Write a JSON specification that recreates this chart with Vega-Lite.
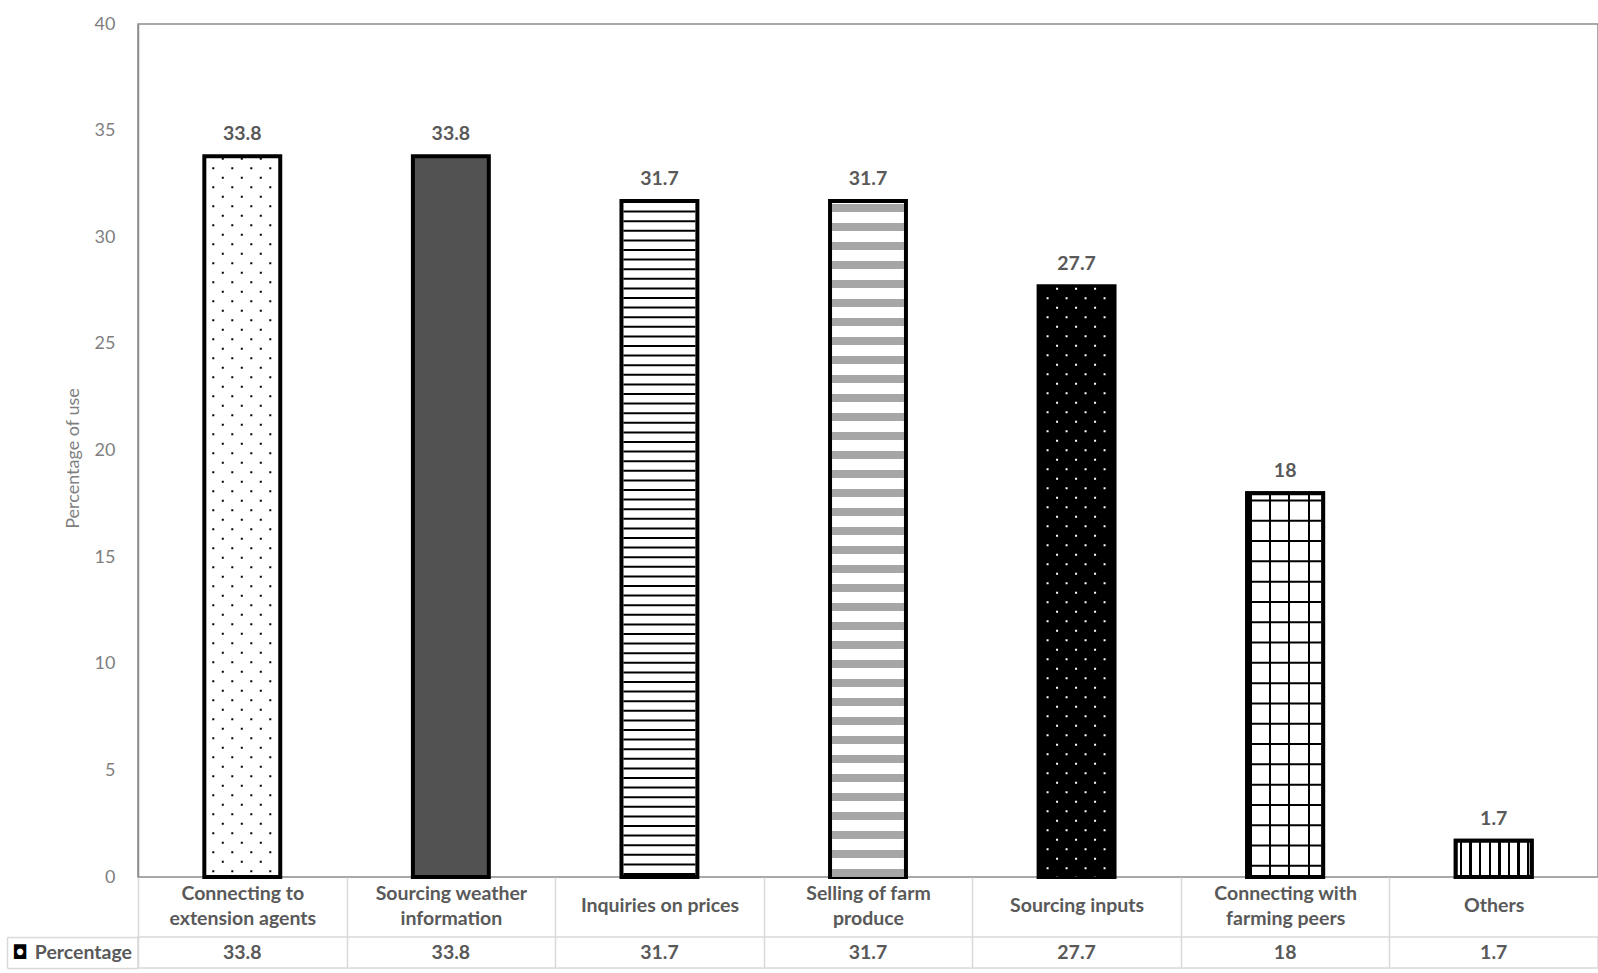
{
  "$schema": "https://vega.github.io/schema/vega-lite/v6.json",
  "padding": {"left": 5, "top": 14, "right": 0, "bottom": 0},
  "bounds": "flush",
  "spacing": 60,
  "config": {"font": "Lato", "background": "white"},
  "data": {
    "values": [
      {"cat": "Connecting to extension agents", "series": "Percentage", "val": 33.8},
      {"cat": "Sourcing weather information", "series": "Percentage", "val": 33.8},
      {"cat": "Inquiries on prices", "series": "Percentage", "val": 31.7},
      {"cat": "Selling of farm produce", "series": "Percentage", "val": 31.7},
      {"cat": "Sourcing inputs", "series": "Percentage", "val": 27.7},
      {"cat": "Connecting with farming peers", "series": "Percentage", "val": 18},
      {"cat": "Others", "series": "Percentage", "val": 1.7}
    ]
  },
  "vconcat": [
    {
      "width": 1460,
      "height": 853,
      "view": {"stroke": "#8c8c8c", "strokeWidth": 1.5},
      "encoding": {
        "x": {
          "field": "cat", "type": "nominal", "sort": null,
          "scale": {"paddingInner": 0, "paddingOuter": 0},
          "axis": {
            "title": null, "domain": false, "ticks": true, "tickBand": "extent",
            "tickSize": 61, "tickColor": "#d9d9d9", "tickWidth": 1.5,
            "labelFontSize": 19.5, "labelFontWeight": "bold", "labelColor": "#595959",
            "labelPadding": {"condition": {"test": "datum.value == 'Inquiries on prices' || datum.value == 'Sourcing inputs' || datum.value == 'Others'", "value": -32.5}, "value": -44.5},
            "labelBaseline": "middle", "labelLineHeight": 25,
            "labelAngle": 0, "labelLimit": 0,
            "labelExpr": "datum.value == 'Connecting to extension agents' ? ['Connecting to', 'extension agents'] : datum.value == 'Sourcing weather information' ? ['Sourcing weather', 'information'] : datum.value == 'Selling of farm produce' ? ['Selling of farm', 'produce'] : datum.value == 'Connecting with farming peers' ? ['Connecting with', 'farming peers'] : datum.label"
          }
        },
        "y": {
          "field": "val", "type": "quantitative",
          "scale": {"domain": [0, 40]},
          "axis": {
            "title": "Percentage of use", "titleFontSize": 18, "titleColor": "#7f7f7f",
            "titleFontWeight": "normal", "titlePadding": 12, "titleY": 434,
            "labelFontSize": 18, "labelColor": "#7f7f7f", "labelPadding": 23,
            "ticks": false, "grid": false, "domainColor": "#8c8c8c", "domainWidth": 1.5,
            "values": [0, 5, 10, 15, 20, 25, 30, 35, 40]
          }
        }
      },
      "layer": [
        {
          "mark": {"type": "bar", "width": {"band": 0.364}, "stroke": "black", "strokeWidth": 4},
          "encoding": {
            "fill": {
              "field": "cat", "type": "nominal", "sort": null, "legend": null,
              "scale": {
                "domain": ["Connecting to extension agents", "Sourcing weather information", "Inquiries on prices", "Selling of farm produce", "Sourcing inputs", "Connecting with farming peers", "Others"],
                "range": ["#ffffff", "#525252", "#ffffff", "#ffffff", "#000000", "#ffffff", "#ffffff"]
              }
            }
          }
        },
        {
          "transform": [{"filter": "datum.cat == 'Inquiries on prices'"}],
          "mark": {"type": "rule", "color": "black", "strokeWidth": 72, "strokeDash": [2, 7.6], "strokeCap": "butt"},
          "encoding": {"y2": {"datum": 0}}
        },
        {
          "transform": [{"filter": "datum.cat == 'Selling of farm produce'"}],
          "mark": {"type": "rule", "color": "#a6a6a6", "strokeWidth": 72, "strokeDash": [8, 11], "strokeDashOffset": 16, "strokeCap": "butt"},
          "encoding": {"y2": {"datum": 0}}
        },
        {
          "transform": [{"filter": "datum.cat == 'Connecting to extension agents' || datum.cat == 'Sourcing inputs'"}],
          "mark": {"type": "rule", "strokeWidth": 2, "strokeDash": [2, 17], "strokeDashOffset": 8, "xOffset": -29, "strokeCap": "butt"},
          "encoding": {"y2": {"datum": 0}, "stroke": {"field": "cat", "type": "nominal", "legend": null, "scale": {"domain": ["Connecting to extension agents", "Sourcing inputs"], "range": ["black", "white"]}}}
        },
        {
          "transform": [{"filter": "datum.cat == 'Connecting to extension agents' || datum.cat == 'Sourcing inputs'"}],
          "mark": {"type": "rule", "strokeWidth": 2, "strokeDash": [2, 17], "strokeDashOffset": 8, "xOffset": -10, "strokeCap": "butt"},
          "encoding": {"y2": {"datum": 0}, "stroke": {"field": "cat", "type": "nominal", "legend": null}}
        },
        {
          "transform": [{"filter": "datum.cat == 'Connecting to extension agents' || datum.cat == 'Sourcing inputs'"}],
          "mark": {"type": "rule", "strokeWidth": 2, "strokeDash": [2, 17], "strokeDashOffset": 8, "xOffset": 9, "strokeCap": "butt"},
          "encoding": {"y2": {"datum": 0}, "stroke": {"field": "cat", "type": "nominal", "legend": null}}
        },
        {
          "transform": [{"filter": "datum.cat == 'Connecting to extension agents' || datum.cat == 'Sourcing inputs'"}],
          "mark": {"type": "rule", "strokeWidth": 2, "strokeDash": [2, 17], "strokeDashOffset": 8, "xOffset": 28, "strokeCap": "butt"},
          "encoding": {"y2": {"datum": 0}, "stroke": {"field": "cat", "type": "nominal", "legend": null}}
        },
        {
          "transform": [{"filter": "datum.cat == 'Connecting to extension agents' || datum.cat == 'Sourcing inputs'"}],
          "mark": {"type": "rule", "strokeWidth": 2, "strokeDash": [2, 17], "strokeDashOffset": 17.5, "xOffset": -19.5, "strokeCap": "butt"},
          "encoding": {"y2": {"datum": 0}, "stroke": {"field": "cat", "type": "nominal", "legend": null}}
        },
        {
          "transform": [{"filter": "datum.cat == 'Connecting to extension agents' || datum.cat == 'Sourcing inputs'"}],
          "mark": {"type": "rule", "strokeWidth": 2, "strokeDash": [2, 17], "strokeDashOffset": 17.5, "xOffset": -0.5, "strokeCap": "butt"},
          "encoding": {"y2": {"datum": 0}, "stroke": {"field": "cat", "type": "nominal", "legend": null}}
        },
        {
          "transform": [{"filter": "datum.cat == 'Connecting to extension agents' || datum.cat == 'Sourcing inputs'"}],
          "mark": {"type": "rule", "strokeWidth": 2, "strokeDash": [2, 17], "strokeDashOffset": 17.5, "xOffset": 18.5, "strokeCap": "butt"},
          "encoding": {"y2": {"datum": 0}, "stroke": {"field": "cat", "type": "nominal", "legend": null}}
        },
        {
          "transform": [{"filter": "datum.cat == 'Connecting with farming peers'"}],
          "mark": {
            "type": "bar", "width": {"band": 0.364}, "stroke": "black", "strokeWidth": 4,
            "fill": {
              "gradient": "linear", "x1": 0, "y1": 0, "x2": 1, "y2": 0,
              "stops": [
                {"offset": 0, "color": "white"},
                {"offset": 0.03, "color": "white"}, {"offset": 0.03, "color": "black"},
                {"offset": 0.057, "color": "black"}, {"offset": 0.057, "color": "white"},
                {"offset": 0.285, "color": "white"}, {"offset": 0.285, "color": "black"},
                {"offset": 0.312, "color": "black"}, {"offset": 0.312, "color": "white"},
                {"offset": 0.54, "color": "white"}, {"offset": 0.54, "color": "black"},
                {"offset": 0.567, "color": "black"}, {"offset": 0.567, "color": "white"},
                {"offset": 0.795, "color": "white"}, {"offset": 0.795, "color": "black"},
                {"offset": 0.822, "color": "black"}, {"offset": 0.822, "color": "white"},
                {"offset": 1, "color": "white"}
              ]
            }
          },
          "encoding": {}
        },
        {
          "transform": [{"filter": "datum.cat == 'Connecting with farming peers'"}],
          "mark": {"type": "rule", "color": "black", "strokeWidth": 72, "strokeDash": [2, 18.3], "strokeDashOffset": 14, "strokeCap": "butt"},
          "encoding": {"y2": {"datum": 0}}
        },
        {
          "transform": [{"filter": "datum.cat == 'Others'"}],
          "mark": {
            "type": "bar", "width": {"band": 0.364}, "stroke": "black", "strokeWidth": 4,
            "fill": {
              "gradient": "linear", "x1": 0, "y1": 0, "x2": 1, "y2": 0,
              "stops": [
                {"offset": 0, "color": "white"},
                {"offset": 0.053, "color": "white"}, {"offset": 0.053, "color": "black"},
                {"offset": 0.086, "color": "black"}, {"offset": 0.086, "color": "white"},
                {"offset": 0.179, "color": "white"}, {"offset": 0.179, "color": "black"},
                {"offset": 0.212, "color": "black"}, {"offset": 0.212, "color": "white"},
                {"offset": 0.306, "color": "white"}, {"offset": 0.306, "color": "black"},
                {"offset": 0.339, "color": "black"}, {"offset": 0.339, "color": "white"},
                {"offset": 0.432, "color": "white"}, {"offset": 0.432, "color": "black"},
                {"offset": 0.465, "color": "black"}, {"offset": 0.465, "color": "white"},
                {"offset": 0.559, "color": "white"}, {"offset": 0.559, "color": "black"},
                {"offset": 0.592, "color": "black"}, {"offset": 0.592, "color": "white"},
                {"offset": 0.685, "color": "white"}, {"offset": 0.685, "color": "black"},
                {"offset": 0.718, "color": "black"}, {"offset": 0.718, "color": "white"},
                {"offset": 0.812, "color": "white"}, {"offset": 0.812, "color": "black"},
                {"offset": 0.845, "color": "black"}, {"offset": 0.845, "color": "white"},
                {"offset": 0.938, "color": "white"}, {"offset": 0.938, "color": "black"},
                {"offset": 0.971, "color": "black"}, {"offset": 0.971, "color": "white"},
                {"offset": 1, "color": "white"}
              ]
            }
          },
          "encoding": {}
        },
        {
          "mark": {"type": "text", "dy": -22, "fontWeight": "bold", "fontSize": 19.5, "color": "#595959", "baseline": "middle"},
          "encoding": {
            "text": {"field": "val", "type": "quantitative"}
          }
        }
      ]
    },
    {
      "width": 1460,
      "height": 31,
      "view": {"stroke": "#d9d9d9", "strokeWidth": 1.5},
      "mark": {"type": "text", "fontWeight": "bold", "fontSize": 19.5, "color": "#595959", "baseline": "middle"},
      "encoding": {
        "x": {
          "field": "cat", "type": "nominal", "sort": null,
          "scale": {"paddingInner": 0, "paddingOuter": 0},
          "axis": {"title": null, "labels": false, "ticks": false, "domain": false, "grid": true, "gridColor": "#d9d9d9", "gridWidth": 1.5, "tickBand": "extent"}
        },
        "y": {
          "field": "series", "type": "nominal",
          "scale": {"paddingInner": 0, "paddingOuter": 0},
          "axis": {
            "title": "◘", "titleFont": "DejaVu Sans", "titleFontSize": 19, "titleFontWeight": "bold",
            "titleColor": "black", "titleAngle": 0, "titleAlign": "center", "titleBaseline": "middle",
            "titleX": 12.5, "titleY": 15.5,
            "orient": "left", "offset": 131,
            "domain": true, "domainColor": "#d9d9d9", "domainWidth": 1.5,
            "ticks": true, "tickBand": "extent", "tickSize": -131, "tickColor": "#d9d9d9", "tickWidth": 1.5,
            "labelAlign": "right", "labelPadding": 6.5, "labelFontSize": 19.5, "labelFontWeight": "bold",
            "labelColor": "#595959"
          }
        },
        "text": {"field": "val", "type": "quantitative"}
      }
    }
  ]
}
